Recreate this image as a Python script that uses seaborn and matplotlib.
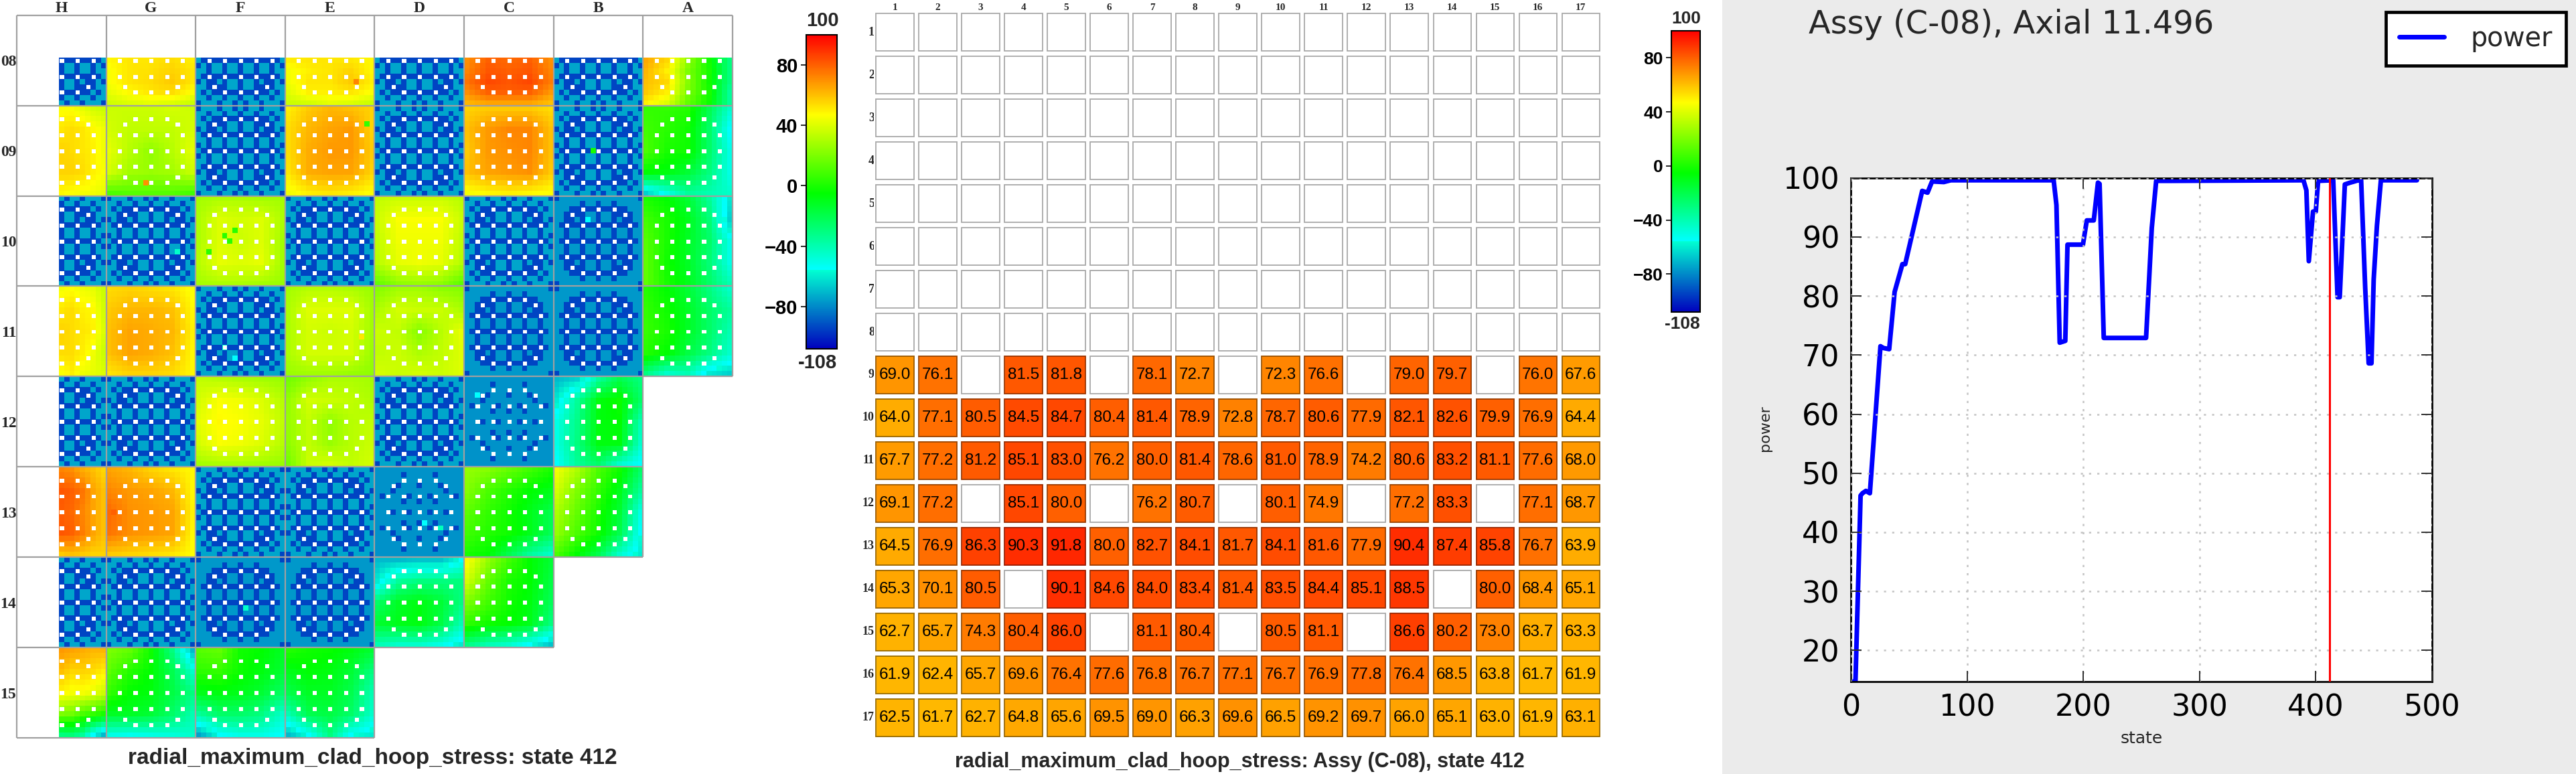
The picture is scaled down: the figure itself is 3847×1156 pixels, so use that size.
import numpy as np
import pandas as pd
import matplotlib
matplotlib.use("Agg")
import matplotlib.pyplot as plt
from matplotlib.collections import PatchCollection
from matplotlib.colors import LinearSegmentedColormap, to_rgb
from matplotlib.patches import Rectangle
import seaborn as sns

W, H = 3848, 1156
SANS = "Liberation Sans"
SERIF = "Liberation Serif"

# ---------- colour scale
VMIN, VMAX = -108, 100
cmap_values = [-108, -56, -55.5, -5, 47, 100]
cmap_colors = ["#0000be", "#00ffd2", "#00ffff", "#00ff00", "#ffff00", "#ff0000"]
cbar_ticks = [-80, -40, 0, 40, 80]

# ---------- assembly table, pins 9-17 of assembly C-08 (None = no pin)
N = None
pin_row_labels = list(range(1, 18))
pin_col_labels = list(range(1, 18))
pins_row_09 = [69.0, 76.1, N, 81.5, 81.8, N, 78.1, 72.7, N, 72.3, 76.6, N, 79.0, 79.7, N, 76.0, 67.6]
pins_row_10 = [64.0, 77.1, 80.5, 84.5, 84.7, 80.4, 81.4, 78.9, 72.8, 78.7, 80.6, 77.9, 82.1, 82.6, 79.9, 76.9, 64.4]
pins_row_11 = [67.7, 77.2, 81.2, 85.1, 83.0, 76.2, 80.0, 81.4, 78.6, 81.0, 78.9, 74.2, 80.6, 83.2, 81.1, 77.6, 68.0]
pins_row_12 = [69.1, 77.2, N, 85.1, 80.0, N, 76.2, 80.7, N, 80.1, 74.9, N, 77.2, 83.3, N, 77.1, 68.7]
pins_row_13 = [64.5, 76.9, 86.3, 90.3, 91.8, 80.0, 82.7, 84.1, 81.7, 84.1, 81.6, 77.9, 90.4, 87.4, 85.8, 76.7, 63.9]
pins_row_14 = [65.3, 70.1, 80.5, N, 90.1, 84.6, 84.0, 83.4, 81.4, 83.5, 84.4, 85.1, 88.5, N, 80.0, 68.4, 65.1]
pins_row_15 = [62.7, 65.7, 74.3, 80.4, 86.0, N, 81.1, 80.4, N, 80.5, 81.1, N, 86.6, 80.2, 73.0, 63.7, 63.3]
pins_row_16 = [61.9, 62.4, 65.7, 69.6, 76.4, 77.6, 76.8, 76.7, 77.1, 76.7, 76.9, 77.8, 76.4, 68.5, 63.8, 61.7, 61.9]
pins_row_17 = [62.5, 61.7, 62.7, 64.8, 65.6, 69.5, 69.0, 66.3, 69.6, 66.5, 69.2, 69.7, 66.0, 65.1, 63.0, 61.9, 63.1]

# ---------- power history
state = [2, 4, 8.4, 10, 13, 16.4, 25.5, 28, 33, 37.7, 44.4, 46.8, 61.4, 66, 69.9, 80, 86, 174.5, 176.9,
         179.7, 184.5, 186.4, 199.7, 203, 209, 212.6, 214, 217.6, 254, 258.9, 262.7, 275.5, 389.4, 391.9,
         394, 397.6, 400, 402, 415, 418.7, 420.6, 425, 429.6, 436.7, 439, 442.5, 445.5, 447.9, 449.8,
         452.6, 456, 487]
power = [14.7, 14.7, 46.2, 46.6, 47, 46.6, 71.5, 71.2, 71, 80.7, 85.4, 85.4, 97.8, 97.5, 99.4, 99.3, 99.6,
         99.6, 95.4, 72.1, 72.4, 88.7, 88.7, 92.8, 92.8, 99.2, 99, 72.9, 72.9, 91.5, 99.5, 99.5, 99.6,
         97.9, 85.9, 94.3, 94.3, 99.5, 99.6, 79.8, 79.8, 98.9, 99.2, 99.6, 99.6, 81.4, 68.6, 68.6, 82.8,
         91.9, 99.6, 99.6]
current_state = 412

# ---------- core map labels and shape
core_cols = ["H", "G", "F", "E", "D", "C", "B", "A"]
core_rows = ["08", "09", "10", "11", "12", "13", "14", "15"]
core_extent = [8, 8, 8, 8, 7, 7, 6, 4]

# lattice patterns: D dark pin, T teal pin, W guide tube
lattice_a = ["DTTTDTTDTDTTDTTTD", "TTDTTDTTDTTDTTDTT", "TDTDDWDDWDDWDDTDT", "TTDWDDTTDTTDDWDTT",
             "DTDDTDTTDTTDTDDTD", "TDWDDWDDWDDWDDWDT", "TTDTTDTTDTTDTTDTT", "DTDTTDTTDTTDTTDTD",
             "TDWDDWDDWDDWDDWDT", "DTDTTDTTDTTDTTDTD", "TTDTTDTTDTTDTTDTT", "TDWDDWDDWDDWDDWDT",
             "DTDDTDTTDTTDTDDTD", "TTDWDDTTDTTDDWDTT", "TDTDDWDDWDDWDDTDT", "TTDTTDTTDTTDTTDTT",
             "DTTTDTTDTDTTDTTTD"]
lattice_b = ["DTTTTTTTTTTTTTTTD", "TTTTTDTTDTTDTTTTT", "TTTDDWDDWDDWDDTTT", "TTDWDDTTDTTDDWDTT",
             "TTDDTDTTDTTDTDDTT", "TDWDDWDDWDDWDDWDT", "TTDTTDTTDTTDTTDTT", "TTDTTDTTDTTDTTDTT",
             "TDWDDWDDWDDWDDWDT", "TTDTTDTTDTTDTTDTT", "TTDTTDTTDTTDTTDTT", "TDWDDWDDWDDWDDWDT",
             "TTDDTDTTDTTDTDDTT", "TTDWDDTTDTTDDWDTT", "TTTDDWDDWDDWDDTTT", "TTTTTDTTDTTDTTTTT",
             "DTTTTTTTTTTTTTTTD"]
lattice_c = ["TTTTTTTTTTTTTTTTT", "TTTTTDTTTTTDTTTTT", "TTTTTWTTWTTWTTTTT", "TTTWDTTTDTTTDWTTT",
             "TTTDTTTTTTTTTDTTT", "TDWTTWDTWTDWTTWDT", "TTTTTDTTDTTDTTTTT", "TTTTTTTTTTTTTTTTT",
             "TTWDTWDTWTDWTDWTT", "TTTTTTTTTTTTTTTTT", "TTTTTDTTDTTDTTTTT", "TDWTTWDTWTDWTTWDT",
             "TTTDTTTTTTTTTDTTT", "TTTWDTTTDTTTDWTTT", "TTTTTWTTWTTWTTTTT", "TTTTTDTTTTTDTTTTT",
             "TTTTTTTTTTTTTTTTT"]
lattice_teal = {"a": -74, "b": -77, "c": -78}
lattice_dark = -94
lattices = {"a": lattice_a, "b": lattice_b, "c": lattice_c}

# coarse readings (5x5 over the drawn part of each fuel-bearing assembly)
G08 = [[48,52,52,54,50],[46,52,53,56,52],[46,52,54,58,52],[42,48,52,54,46],[37,40,42,40,36]]
E08 = [[50,52,52,52,48],[45,50,52,56,48],[44,52,52,58,50],[40,50,50,52,46],[36,38,42,40,36]]
C08 = [[70,80,78,80,70],[72,82,80,82,72],[76,85,82,85,74],[70,80,80,80,68],[62,66,66,66,60]]
A08 = [[65,55,25,-2,-30],[62,50,20,0,-30],[60,55,22,-2,-30],[58,50,20,0,-35],[50,40,15,-3,-35]]
H09 = [[46,46,42,38,36],[52,54,52,48,44],[56,54,52,50,44],[56,56,54,50,46],[48,46,45,44,42]]
G09 = [[36,36,36,38,36],[38,34,34,34,38],[42,32,24,32,42],[38,28,26,28,36],[10,12,12,12,8]]
E09 = [[50,58,62,60,56],[54,62,66,68,56],[54,64,68,68,58],[52,64,66,66,56],[44,50,52,50,46]]
C09 = [[56,58,58,58,54],[60,68,72,72,60],[58,68,70,72,60],[60,66,68,70,58],[45,48,50,48,46]]
A09 = [[5,5,2,-20,-45],[8,3,-2,-25,-55],[10,0,-2,-25,-50],[-5,-8,-15,-30,-50],[-65,-50,-35,-40,-45]]
F10 = [[28,30,30,28,28],[30,40,38,40,30],[30,40,36,40,28],[32,42,40,42,28],[28,30,30,28,26]]
D10 = [[34,36,36,36,32],[36,46,46,46,36],[34,44,44,44,34],[32,42,44,42,32],[15,24,26,24,14]]
A10 = [[0,-5,-15,-35,-60],[8,0,-10,-28,-65],[12,0,-12,-25,-50],[14,-2,-12,-28,-50],[14,0,-10,-25,-40]]
H11 = [[45,47,44,42,36],[52,54,50,48,38],[56,54,52,50,40],[54,54,50,44,36],[46,50,44,42,40]]
G11 = [[54,56,54,52,46],[58,62,62,60,48],[60,66,64,62,50],[60,66,64,60,48],[52,56,56,54,48]]
E11 = [[28,32,32,30,26],[30,40,40,40,28],[30,38,36,38,28],[30,38,38,38,26],[26,28,28,26,24]]
D11 = [[22,28,28,24,22],[30,38,36,36,30],[36,34,22,32,42],[34,36,30,34,40],[38,36,38,36,40]]
A11 = [[2,-5,-15,-30,-45],[5,-2,-12,-25,-35],[6,0,-12,-25,-40],[2,-5,-18,-30,-45],[-30,-45,-40,-60,-65]]
F12 = [[34,32,30,28,26],[38,46,44,40,32],[42,48,46,42,34],[38,46,44,40,32],[28,30,30,28,26]]
E12 = [[18,25,30,30,28],[25,38,36,34,30],[26,34,24,32,34],[24,34,26,32,36],[18,36,38,34,38]]
B12 = [[-70,-65,-35,-20,-30],[-60,-35,-8,-3,-25],[-50,-32,-8,-5,-40],[-50,-30,-8,-8,-45],[-55,-35,-25,-45,-55]]
H13 = [[72,70,64,60,55],[82,80,76,66,60],[80,78,72,66,60],[82,80,74,66,60],[58,60,58,56,56]]
G13 = [[66,62,56,52,48],[72,68,66,62,48],[78,70,68,66,50],[76,70,68,66,48],[58,56,54,52,47]]
C13 = [[25,22,15,8,0],[22,10,2,-5,-10],[14,5,-2,-10,-20],[8,2,-2,-10,-22],[0,-5,-20,-35,-45]]
B13 = [[45,30,10,-2,-25],[38,20,5,-10,-35],[30,15,0,-15,-50],[25,10,-2,-20,-55],[10,-5,-20,-45,-60]]
D14 = [[-70,-70,-68,-68,-55],[-60,-35,-30,-30,-30],[-25,-12,-8,-15,-30],[-15,-10,-8,-18,-40],[-40,-45,-45,-50,-60]]
C14 = [[48,25,8,-5,-15],[38,15,0,-5,-18],[20,8,-2,-8,-22],[5,-2,-5,-10,-30],[-30,-40,-45,-55,-68]]
H15 = [[68,66,64,62,62],[60,55,56,54,50],[48,45,45,42,36],[20,18,10,5,0],[-30,-28,-35,-55,-70]]
G15 = [[20,15,-2,-30,-70],[14,2,-5,-20,-45],[5,-5,-8,-18,-30],[-12,-12,-15,-25,-40],[-50,-52,-50,-48,-45]]
F15 = [[12,15,-2,-5,-12],[4,5,-3,-8,-15],[-10,-8,-10,-15,-25],[-35,-25,-25,-30,-45],[-75,-55,-50,-50,-55]]
E15 = [[2,-2,-4,-8,-15],[-10,-6,-8,-15,-30],[-20,-12,-12,-20,-40],[-40,-20,-18,-25,-45],[-70,-55,-30,-55,-60]]

core_08 = ["a", G08, "a", E08, "a", C08, "a", A08]
core_09 = [H09, G09, "a", E09, "a", C09, "a", A09]
core_10 = ["a", "a", F10, "a", D10, "a", "b", A10]
core_11 = [H11, G11, "a", E11, D11, "b", "b", A11]
core_12 = ["a", "a", F12, E12, "a", "c", B12, None]
core_13 = [H13, G13, "a", "a", "c", C13, B13, None]
core_14 = ["a", "a", "b", "b", D14, C14, None, None]
core_15 = [H15, G15, F15, E15, None, None, None, None]
core_layout = [core_08, core_09, core_10, core_11, core_12, core_13, core_14, core_15]

# single pins that stand out: assembly row, assembly col, pin row, pin col, value
odd_pins = [(1, 1, 14, 7, 70), (1, 3, 3, 15, 5), (2, 2, 6, 7, 3), (2, 2, 7, 5, 3), (2, 2, 8, 6, 3),
            (2, 2, 10, 2, 3), (1, 6, 8, 7, 0), (2, 1, 10, 13, -45), (2, 6, 4, 6, -55),
            (5, 4, 10, 9, -55), (5, 4, 11, 12, -42), (6, 2, 9, 9, -45), (0, 3, 12, 13, 72),
            (3, 2, 11, 5, -45), (3, 2, 13, 7, -55), (4, 5, 3, 2, -55), (3, 3, 9, 14, 52), (5, 1, 8, 1, 80)]


def px_axes(fig, left, top, right, bottom):
    return fig.add_axes([left / W, 1 - bottom / H, (right - left) / W, (bottom - top) / H])


def smooth_field(coarse, nrows, ncols):
    # pin-level field estimated from the coarse 5x5 reading of an assembly
    c = np.asarray(coarse, float)
    rpos = np.linspace(0, 4, nrows)
    cpos = np.linspace(0, 4, ncols)
    across = np.array([np.interp(cpos, np.arange(5), row) for row in c])
    return np.array([np.interp(rpos, np.arange(5), across[:, j]) for j in range(ncols)]).T


def build_core():
    full = np.full((136, 136), np.nan)
    tubes = []
    for i, row in enumerate(core_layout):
        r0 = 8 if i == 0 else 0
        for j, item in enumerate(row):
            if item is None:
                continue
            c0 = 8 if j == 0 else 0
            key = item if isinstance(item, str) else "a"
            pat = lattices[key]
            block = np.full((17, 17), np.nan)
            if isinstance(item, str):
                base = lattice_teal[item] if item == "c" else lattice_dark
                for r in range(17):
                    for c in range(17):
                        block[r, c] = {"T": lattice_teal[item], "D": lattice_dark}.get(pat[r][c], base)
            else:
                block[r0:, c0:] = smooth_field(item, 17 - r0, 17 - c0)
            block[:r0, :] = np.nan
            block[:, :c0] = np.nan
            full[i * 17:(i + 1) * 17, j * 17:(j + 1) * 17] = block
            tubes += [(i * 17 + r, j * 17 + c) for r in range(r0, 17) for c in range(c0, 17) if pat[r][c] == "W"]
    for i, j, r, c, v in odd_pins:
        full[i * 17 + r, j * 17 + c] = v
    return full, tubes


sns.set_style("white")
cmap = LinearSegmentedColormap.from_list(
    "stress", [((v - VMIN) / (VMAX - VMIN), c) for v, c in zip(cmap_values, cmap_colors)], N=512)
cmap.set_bad("white")

fig = plt.figure(figsize=(W / 100, H / 100), dpi=100, facecolor="white")
fig.patches.append(Rectangle((2572 / W, 0), (W - 2572) / W, 1, transform=fig.transFigure,
                             facecolor="#ebebeb", edgecolor="none", zorder=-5))


def style_cbar(hm_ax, fs):
    cb = hm_ax.collections[0].colorbar
    cax = cb.ax
    cb.outline.set_edgecolor("black")
    cb.outline.set_linewidth(1.5)
    cax.yaxis.tick_left()
    cax.tick_params(axis="y", length=6, width=1.2, color="black", pad=3, left=True, right=False)
    for t in cax.get_yticklabels():
        t.set_fontfamily(SANS)
        t.set_fontweight("bold")
        t.set_fontsize(fs)
        t.set_color("black")
    cax.text(0, 1.015, str(VMAX), transform=cax.transAxes, ha="left", va="bottom", fontsize=fs,
             fontfamily=SANS, fontweight="bold")
    cax.text(1.0, -0.015, str(VMIN), transform=cax.transAxes, ha="right", va="top", fontsize=fs,
             fontfamily=SANS, fontweight="bold")


# ---------- left panel: core map
ax_core = px_axes(fig, 25, 22.7, 1094, 1102)
cax_core = px_axes(fig, 1204, 52, 1250, 521)
core, tube_cells = build_core()
sns.heatmap(core, ax=ax_core, cmap=cmap, vmin=VMIN, vmax=VMAX, mask=np.isnan(core), cbar_ax=cax_core,
            cbar_kws={"ticks": cbar_ticks}, xticklabels=False, yticklabels=False)
style_cbar(ax_core, 21)
ax_core.add_collection(PatchCollection(
    [Rectangle((c + 0.2, r + 0.2), 0.78, 0.75) for r, c in tube_cells],
    facecolor="white", edgecolor="none", antialiased=False, zorder=3))
GRID_GREY = "#a0a0a0"
for i in range(9):
    prev = core_extent[i - 1] if i > 0 else 0
    cur = core_extent[i] if i < 8 else 0
    ax_core.hlines(i * 17, 0, 17 * max(prev, cur), color=GRID_GREY, lw=1.6, clip_on=False, zorder=4)
for j in range(9):
    nrows = sum(1 for e in core_extent if e >= j) if j > 0 else 8
    ax_core.vlines(j * 17, 0, 17 * nrows, color=GRID_GREY, lw=1.6, clip_on=False, zorder=4)
ax_core.set_xticks([8.5 + 17 * i for i in range(8)], core_cols, fontfamily=SERIF, fontweight="bold", fontsize=17)
ax_core.set_yticks([8.5 + 17 * i for i in range(8)], core_rows, fontfamily=SERIF, fontweight="bold", fontsize=17,
                   rotation=0)
ax_core.tick_params(axis="x", top=True, bottom=False, labeltop=True, labelbottom=False, length=0, pad=0)
ax_core.tick_params(axis="y", length=0, pad=0.5)
fig.text(556 / W, 1 - 1133 / H, "radial_maximum_clad_hoop_stress: state 412", ha="center", va="center",
         fontfamily=SANS, fontweight="bold", fontsize=24)

# ---------- centre panel: single assembly table
ax_pin = px_axes(fig, 1304.5, 16.25, 2392.8, 1103.75)
cax_pin = px_axes(fig, 2496, 46, 2539, 466)
pin_rows = [pins_row_09, pins_row_10, pins_row_11, pins_row_12, pins_row_13, pins_row_14, pins_row_15,
            pins_row_16, pins_row_17]
table = np.full((17, 17), np.nan)
for k, row in enumerate(pin_rows):
    table[8 + k] = [np.nan if v is None else v for v in row]
labels = np.array([["" if np.isnan(v) else f"{v:.1f}" for v in row] for row in table], dtype=object)
sns.heatmap(table, ax=ax_pin, cmap=cmap, vmin=VMIN, vmax=VMAX, mask=np.isnan(table), cbar_ax=cax_pin,
            cbar_kws={"ticks": cbar_ticks}, annot=labels, fmt="",
            annot_kws={"fontfamily": SANS, "fontsize": 17.5, "color": "black"},
            xticklabels=pin_col_labels, yticklabels=pin_row_labels)
style_cbar(ax_pin, 19)
GAP = 0.059
for r in range(17):
    for c in range(17):
        ax_pin.add_patch(Rectangle((c, r), 1, 1, facecolor="none", edgecolor="white", lw=5.4, zorder=1.5))
for r in range(17):
    for c in range(17):
        v = table[r, c]
        edge = "#a8a8a8" if np.isnan(v) else tuple(0.6 * x for x in to_rgb(cmap((v - VMIN) / (VMAX - VMIN))))
        ax_pin.add_patch(Rectangle((c + GAP, r + GAP), 1 - 2 * GAP, 1 - 2 * GAP, facecolor="none",
                                   edgecolor=edge, lw=1.3, zorder=1.6))
ax_pin.tick_params(axis="x", top=True, bottom=False, labeltop=True, labelbottom=False, length=0, pad=-1, rotation=0)
ax_pin.tick_params(axis="y", length=0, pad=-1, rotation=0)
for t in ax_pin.get_xticklabels() + ax_pin.get_yticklabels():
    t.set_fontfamily(SERIF)
    t.set_fontweight("bold")
    t.set_fontsize(13)
for t in ax_pin.get_xticklabels():
    t.set_fontsize(11)
fig.text(1851 / W, 1 - 1138 / H, "radial_maximum_clad_hoop_stress: Assy (C-08), state 412", ha="center",
         va="center", fontfamily=SANS, fontweight="bold", fontsize=22)

# ---------- right panel: power history
ax_line = px_axes(fig, 2764, 265.7, 3632, 1018.4)
ax_line.set_facecolor("white")
frame = pd.DataFrame({"state": state, "power": power})
sns.lineplot(data=frame, x="state", y="power", ax=ax_line, color="#0000ff", lw=5, errorbar=None,
             label="power", solid_joinstyle="round")
ax_line.axvline(current_state, color="#ff0000", lw=2.2, zorder=2.6)
ax_line.set_xlim(0, 500)
ax_line.set_ylim(14.66, 100)
ax_line.set_xticks([0, 100, 200, 300, 400, 500])
ax_line.set_yticks([20, 30, 40, 50, 60, 70, 80, 90, 100])
ax_line.tick_params(direction="in", length=11.5, width=1.4, color="#303030", top=True, right=True,
                    labelsize=32, pad=12, labelcolor="black", left=True, bottom=True)
ax_line.grid(True, color="#c4c4c4", lw=1.8, ls=(0, (1.3, 3.6)), zorder=2.8)
ax_line.set_axisbelow(False)
for name, sp in ax_line.spines.items():
    sp.set_visible(True)
    sp.set_color("black")
    sp.set_linewidth(2)
    sp.set_zorder(2)
for t in ax_line.get_xticklabels() + ax_line.get_yticklabels():
    t.set_fontfamily("DejaVu Sans")
ax_line.set_xlabel("")
ax_line.set_ylabel("")
fig.text(3198 / W, 1 - 1103 / H, "state", ha="center", va="center", fontfamily="DejaVu Sans", fontsize=18)
fig.text(2636 / W, 1 - 640 / H, "power", ha="center", va="center", rotation=90, fontfamily="DejaVu Sans", fontsize=16)
fig.text(2701 / W, 1 - 36 / H, "Assy (C-08), Axial 11.496", ha="left", va="center", fontfamily="DejaVu Sans",
         fontsize=34.5)
leg = ax_line.legend(loc="upper right", bbox_to_anchor=(3832 / W, 1 - 18 / H), bbox_transform=fig.transFigure,
                     prop={"family": "DejaVu Sans", "size": 28.5}, frameon=True, fancybox=False, framealpha=1,
                     borderaxespad=0, borderpad=0.5, handlelength=1.7, handletextpad=1.0)
leg.get_frame().set_edgecolor("black")
leg.get_frame().set_linewidth(3.4)
leg.get_frame().set_facecolor("white")
leg.set_zorder(10)

fig.savefig("out.png", dpi=100, facecolor="white")
